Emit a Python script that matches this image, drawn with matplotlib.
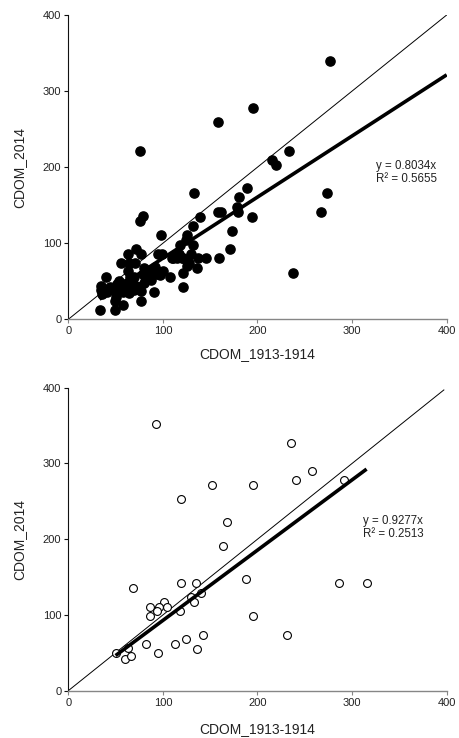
import matplotlib
matplotlib.use("Agg")
import matplotlib.pyplot as plt
import numpy as np

plt.rcParams['font.family'] = ['Liberation Sans', 'DejaVu Sans']

# ---- Top panel data (filled circles) ----
top_x = [276.6, 195.6, 158.6, 76.1, 233.3, 215, 219.6, 133.2, 273.5, 188.5, 180.8, 178, 179.7,
         158.6, 161.4, 267.5, 194.2, 139.2, 78.6, 76.1, 131.8, 173.4, 98.3, 125.8, 132.2, 118.4,
         170.6, 71.5, 63.1, 76.5, 94.8, 98.7, 129.7, 111, 115, 136.7, 145.6, 159.3, 121.6, 55.7,
         64.5, 70.5, 79.6, 136.4, 107.1, 39.8, 120.9, 121.2, 237.9, 90.2, 57.4, 33.5, 49.7, 76.8,
         49.7, 124, 127, 125, 128, 116, 113, 90, 93, 88, 96, 84, 80, 85, 79, 74, 77, 66, 67, 60,
         62, 58, 55, 52, 54, 46, 44, 41, 35, 35, 36, 50, 51, 63, 65, 69, 72, 62, 69, 64, 57, 97,
         92, 100, 87, 81, 110, 117, 120]
top_y = [339.5, 277.3, 258.9, 221.7, 221.7, 209.4, 202.8, 166.5, 166.5, 172.2, 160.4, 148.1, 141.1,
         141.1, 141.1, 141.5, 134.9, 134.9, 135.8, 129.7, 122.7, 116.5, 110.4, 110.8, 97.7, 97.7,
         92, 92, 85.9, 85.9, 85.9, 85.9, 85.9, 80.2, 80.2, 80.2, 80.2, 80.2, 80.2, 73.6,
         73.6, 73.6, 67, 67, 55.2, 55.2, 60.5, 42.9, 61.3, 36.4, 18.4, 11.8, 11.8, 24.1,
         24.1, 104, 76, 70, 74, 85, 82, 65, 60, 58, 62, 55, 48, 62, 60, 42, 37, 42, 50, 45,
         38, 36, 40, 46, 50, 40, 43, 36, 44, 38, 33, 30, 35, 63, 55, 55, 44, 48, 38, 35, 42, 58,
         69, 64, 52, 55, 80, 86, 80]
top_slope = 0.8034
top_r2 = 0.5655
top_fit_x = [33, 400]

# ---- Bottom panel data (open circles) ----
bot_x = [92.5, 235.5, 257.7, 240.8, 291.3, 152.2, 194.9, 119.3, 168, 163.5, 187.5, 286, 315.3,
         119, 134.5, 68.1, 140.5, 129.6, 132.7, 101.3, 86.5, 96.4, 104.1, 93.6, 118, 86.5, 195.2,
         142.3, 230.9, 124.3, 81.9, 112.6, 135.6, 94.3, 50.1, 63.6, 60.4, 66.7]
bot_y = [352, 327.4, 290, 277.7, 277.7, 271.5, 271.5, 253, 222.2, 191.4, 147.9, 141.7, 141.7,
         141.7, 141.7, 135.5, 129.4, 123.2, 117, 117, 110.9, 110.9, 110.9, 104.7, 104.7, 98.1, 98.6,
         73.9, 73.9, 67.8, 61.6, 61.6, 55.4, 49.3, 49.3, 56.8, 42.2, 45.8]
bot_slope = 0.9277
bot_r2 = 0.2513
bot_fit_x = [50, 315.3]

ticks = [0, 100, 200, 300, 400]
xlabel = "CDOM_1913-1914"
ylabel = "CDOM_2014"

fig = plt.figure(figsize=(4.59, 7.38), dpi=100)
ax1 = fig.add_axes([0.1488, 0.5673, 0.8244, 0.4124])
ax2 = fig.add_axes([0.1488, 0.0641, 0.8244, 0.4106])


def style(ax, xpad):
    ax.set_xlim(0, 400)
    ax.set_ylim(0, 400)
    ax.set_xticks(ticks)
    ax.set_yticks(ticks)
    for s in ['top', 'right']:
        ax.spines[s].set_visible(False)
    ax.spines['left'].set_linewidth(0.8)
    ax.spines['left'].set_color('#111111')
    ax.spines['bottom'].set_linewidth(1.0)
    ax.spines['bottom'].set_color('#868686')
    ax.tick_params(axis='y', direction='out', length=3, width=0.8, color='#111111',
                   labelsize=8, pad=2, labelcolor='#222222')
    ax.tick_params(axis='x', direction='out', length=3, width=0.8, color='#868686',
                   labelsize=8, pad=2, labelcolor='#222222')
    ax.set_xlabel(xlabel, fontsize=10, labelpad=xpad, color='#222222')
    ax.set_ylabel(ylabel, fontsize=10, labelpad=12, color='#222222')


# Top
ax1.plot([0, 400], [0, 400], color='black', lw=0.7, zorder=1)
ax1.scatter(top_x, top_y, s=44, color='black', edgecolor='black', zorder=2)
fx = np.array(top_fit_x)
ax1.plot(fx, top_slope * fx, color='black', lw=2.6, zorder=3, solid_capstyle='butt')
ax1.text(325, 193, f"y = {top_slope}x\nR\u00b2 = {top_r2}", fontsize=8.3,
         va='center', ha='left', linespacing=1.1, color='#222222')
style(ax1, 8)

# Bottom
ax2.plot([0, 397], [0, 397], color='black', lw=0.7, zorder=1)
ax2.scatter(bot_x, bot_y, s=32, facecolor='white', edgecolor='black', linewidth=0.8, zorder=2)
fx = np.array(bot_fit_x)
ax2.plot(fx, bot_slope * fx, color='black', lw=2.6, zorder=3, solid_capstyle='butt')
ax2.text(312, 216, f"y = {bot_slope}x\nR\u00b2 = {bot_r2}", fontsize=8.3,
         va='center', ha='left', linespacing=1.1, color='#222222')
style(ax2, 10)

fig.savefig("out.png", dpi=100)
